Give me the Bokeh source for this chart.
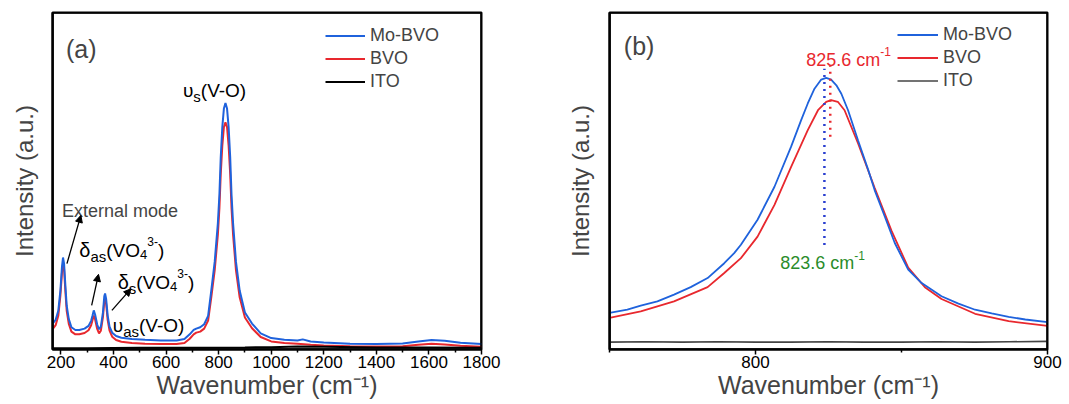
from bokeh.plotting import figure
from bokeh.layouts import row
from bokeh.models import (Range1d, FixedTicker, Legend, LegendItem, Label, Arrow,
                          NormalHead, ColumnDataSource, BoxAnnotation)
from bokeh.embed import file_html
from bokeh.resources import INLINE

FONT = "Liberation Sans"
BLUE = "#1f62dc"
RED = "#e8282e"
GREEN = "#2a8c2a"

# ---------------- Panel (a) data ----------------
a_x_mobvo = [170, 180, 190, 198, 204, 208, 212, 217, 222, 230, 240, 255, 270, 290, 305, 315, 320, 325,
             330, 338, 345, 352, 360, 365, 368, 372, 378, 385, 395, 410, 430, 470, 520, 580, 640, 670,
             690, 705, 715, 730, 745, 760, 772, 785, 797, 803, 808, 814, 820, 826, 832, 838, 844, 849,
             855, 866, 880, 900, 927, 960, 1000, 1050, 1100, 1120, 1150, 1200, 1300, 1400, 1500, 1560,
             1610, 1660, 1720, 1800]
a_y_mobvo = [0.078, 0.088, 0.115, 0.175, 0.245, 0.273, 0.255, 0.19, 0.13, 0.09, 0.066, 0.058, 0.058,
             0.062, 0.07, 0.085, 0.1, 0.116, 0.104, 0.074, 0.06, 0.068, 0.11, 0.158, 0.166, 0.15, 0.1,
             0.068, 0.05, 0.04, 0.035, 0.031, 0.029, 0.027, 0.027, 0.031, 0.045, 0.058, 0.062, 0.066,
             0.075, 0.1, 0.175, 0.26, 0.374, 0.46, 0.57, 0.66, 0.715, 0.731, 0.715, 0.66, 0.57, 0.46,
             0.374, 0.26, 0.175, 0.11, 0.077, 0.048, 0.034, 0.029, 0.027, 0.03, 0.024, 0.021, 0.017,
             0.016, 0.018, 0.024, 0.028, 0.026, 0.02, 0.016]
a_x_bvo = [170, 180, 190, 198, 204, 208, 212, 217, 222, 230, 240, 255, 270, 290, 305, 315, 320, 325,
           330, 338, 345, 352, 360, 365, 368, 372, 378, 385, 395, 410, 430, 470, 520, 580, 640, 670,
           690, 705, 715, 730, 745, 760, 772, 785, 797, 803, 808, 814, 820, 826, 832, 838, 844, 849,
           855, 866, 880, 900, 927, 960, 1000, 1050, 1100, 1150, 1200, 1300, 1400, 1500, 1560, 1610,
           1660, 1720, 1800]
a_y_bvo = [0.062, 0.072, 0.1, 0.16, 0.228, 0.255, 0.238, 0.172, 0.115, 0.076, 0.053, 0.045, 0.045,
           0.049, 0.057, 0.072, 0.087, 0.101, 0.09, 0.061, 0.048, 0.056, 0.097, 0.143, 0.151, 0.136,
           0.087, 0.056, 0.038, 0.028, 0.023, 0.019, 0.017, 0.016, 0.016, 0.019, 0.032, 0.045, 0.05,
           0.053, 0.062, 0.086, 0.155, 0.235, 0.34, 0.42, 0.52, 0.605, 0.66, 0.674, 0.66, 0.605, 0.52,
           0.42, 0.34, 0.235, 0.155, 0.095, 0.063, 0.037, 0.024, 0.019, 0.017, 0.014, 0.012, 0.01,
           0.009, 0.01, 0.014, 0.017, 0.015, 0.011, 0.008]
a_x_ito = [170, 300, 500, 700, 900, 1000, 1100, 1200, 1400, 1600, 1800]
a_y_ito = [0.004, 0.004, 0.005, 0.005, 0.006, 0.007, 0.009, 0.008, 0.006, 0.006, 0.005]

# ---------------- Panel (b) data ----------------
b_x_mobvo = [750.0, 756.1, 760.7, 766.4, 772.1, 777.8, 783.6, 789.3, 792.7, 795.0, 800.7, 806.5, 812.2,
             815.6, 817.9, 820.2, 822.5, 824.2, 825.9, 827.7, 829.4, 831.7, 835.1, 838.6, 840.8, 844.3,
             847.7, 852.3, 856.9, 863.7, 869.5, 875.2, 880.9, 886.7, 892.4, 900.0]
b_y_mobvo = [0.1085, 0.118, 0.130, 0.143, 0.163, 0.185, 0.212, 0.256, 0.286, 0.311, 0.385, 0.483, 0.602,
             0.680, 0.730, 0.774, 0.801, 0.806, 0.801, 0.784, 0.759, 0.710, 0.621, 0.533, 0.473, 0.394,
             0.316, 0.237, 0.197, 0.158, 0.136, 0.118, 0.107, 0.097, 0.089, 0.081]
b_x_bvo = [750.0, 760.7, 772.1, 783.6, 789.3, 795.0, 800.7, 806.5, 812.2, 817.9, 821.4, 824.2, 825.9,
           828.2, 830.5, 835.1, 840.8, 846.6, 852.3, 858.0, 863.7, 875.2, 886.7, 900.0]
b_y_bvo = [0.0937, 0.113, 0.143, 0.185, 0.227, 0.271, 0.335, 0.429, 0.542, 0.651, 0.710, 0.735, 0.740,
           0.735, 0.710, 0.612, 0.480, 0.352, 0.243, 0.185, 0.150, 0.106, 0.084, 0.070]
b_x_ito = [750, 762, 775, 787, 800, 812, 825, 837, 850, 862, 875, 887, 900]
b_y_ito = [0.022, 0.023, 0.022, 0.023, 0.022, 0.022, 0.023, 0.022, 0.022, 0.023, 0.022, 0.023, 0.024]

# peak markers (b)
peak_x = [823.6, 825.6]
peak_y0 = [0.31, 0.631]
peak_y1 = [0.833, 0.843]
peak_colors = ["#2a3fd0", RED]

a_range = (168, 1800)
b_range = (750, 900)
a_major = [200, 400, 600, 800, 1000, 1200, 1400, 1600, 1800]
a_minor = [300, 500, 700, 900, 1100, 1300, 1500, 1700]
b_major = [800, 900]
b_minor = [750, 850]

W = {'0': 556, '1': 556, '2': 556, '3': 556, '4': 556, '5': 556, '6': 556, '7': 556, '8': 556,
     '9': 556, '.': 278, ' ': 278, 'c': 500, 'm': 833, '-': 333, '(': 333, ')': 333, 'V': 667,
     'O': 778, 'a': 556, 's': 500, 'δ': 556, 'υ': 549}


def tw(s, size):
    return sum(W.get(ch, 556) for ch in s) * size / 1000.0


def rich(p, x, y, pieces, color="black"):
    off = 0.0
    for txt, size, dy in pieces:
        p.add_layout(Label(x=x, y=y, x_offset=off, y_offset=dy, text=txt,
                           text_font_size=f"{size}px", text_font=FONT, text_color=color,
                           text_baseline="alphabetic", text_align="left"))
        off += tw(txt, size)


def style(p, major, minor, ylabel_standoff, xr):
    p.xaxis.ticker = FixedTicker(ticks=major, minor_ticks=minor)
    p.xaxis.major_tick_in = 0
    p.xaxis.major_tick_out = 5
    p.xaxis.minor_tick_in = 0
    p.xaxis.minor_tick_out = 3
    p.xaxis.major_tick_line_width = 1.5
    p.xaxis.minor_tick_line_width = 1.5
    p.xaxis.major_label_text_font = FONT
    p.xaxis.major_label_text_font_size = "17px"
    p.xaxis.major_label_text_color = "black"
    p.xaxis.major_label_standoff = 1
    p.xaxis.axis_label = "Wavenumber (cm⁻¹)"
    p.xaxis.axis_label_text_font = FONT
    p.xaxis.axis_label_text_font_size = "25px"
    p.xaxis.axis_label_text_font_style = "normal"
    p.xaxis.axis_label_standoff = 0
    p.xaxis.axis_line_width = 2
    p.yaxis.ticker = FixedTicker(ticks=[])
    p.yaxis.axis_label = "Intensity (a.u.)"
    p.yaxis.axis_label_text_font = FONT
    p.yaxis.axis_label_text_font_size = "24px"
    p.yaxis.axis_label_text_font_style = "normal"
    p.yaxis.axis_label_standoff = ylabel_standoff
    p.yaxis.major_tick_line_color = None
    p.yaxis.minor_tick_line_color = None
    p.yaxis.axis_line_width = 2
    p.xgrid.visible = False
    p.ygrid.visible = False
    p.outline_line_color = "black"
    p.outline_line_width = 2
    p.outline_line_alpha = 1
    # frame border drawn along the edges of the plotting area
    p.add_layout(BoxAnnotation(left=xr[0], right=xr[1], bottom=0, top=1, fill_alpha=0,
                               line_color="black", line_width=2.5, line_alpha=1, level="overlay"))


# ---------------- Figure (a) ----------------
pa = figure(frame_width=429, frame_height=337, x_range=Range1d(*a_range), y_range=Range1d(0, 1),
            output_backend="svg", toolbar_location=None,
            min_border_left=52, min_border_right=59, min_border_top=12, min_border_bottom=53)
style(pa, a_major, a_minor, 15, a_range)
ra_b = pa.line(a_x_bvo, a_y_bvo, line_color=RED, line_width=2)
ra_m = pa.line(a_x_mobvo, a_y_mobvo, line_color=BLUE, line_width=2)
ra_i = pa.line(a_x_ito, a_y_ito, line_color="black", line_width=2)

leg_a = Legend(items=[LegendItem(label="Mo-BVO", renderers=[ra_m]),
                      LegendItem(label="BVO", renderers=[ra_b]),
                      LegendItem(label="ITO", renderers=[ra_i])],
               location=(273, 256), padding=0, spacing=0, margin=0, glyph_width=40,
               glyph_height=23, label_height=23, label_standoff=5,
               label_text_font=FONT, label_text_font_size="18px",
               border_line_color=None, background_fill_alpha=0)
pa.add_layout(leg_a)

pa.add_layout(Label(x=219, y=0.893, text="(a)", text_font=FONT, text_font_size="25px",
                    text_baseline="alphabetic"))
pa.add_layout(Label(x=204, y=0.412, text="External mode", text_font=FONT, text_font_size="18px",
                    text_baseline="alphabetic"))
rich(pa, 664, 0.769, [("υ", 19, 0), ("s", 15, -6), ("(V-O)", 19, 0)])
rich(pa, 270, 0.294, [("δ", 20, 0), ("as", 15, -6), ("(VO", 19, 0), ("4", 13, -4), ("3-", 12, 9),
                      (")", 19, 0)])
rich(pa, 416, 0.200, [("δ", 20, 0), ("s", 15, -6), ("(VO", 19, 0), ("4", 13, -4), ("3-", 12, 9),
                      (")", 19, 0)])
rich(pa, 397, 0.071, [("υ", 19, 0), ("as", 15, -6), ("(V-O)", 19, 0)])

for (x0, y0, x1, y1) in [(223, 0.255, 276, 0.398), (317, 0.131, 343, 0.223), (394, 0.116, 466, 0.18)]:
    pa.add_layout(Arrow(end=NormalHead(size=7, fill_color="black", line_color="black"),
                        x_start=x0, y_start=y0, x_end=x1, y_end=y1, line_width=1.3,
                        line_color="black"))

# ---------------- Figure (b) ----------------
pb = figure(frame_width=438, frame_height=337, x_range=Range1d(*b_range), y_range=Range1d(0, 1),
            output_backend="svg", toolbar_location=None,
            min_border_left=69, min_border_right=20, min_border_top=12, min_border_bottom=53)
style(pb, b_major, b_minor, 16, b_range)
rb_i = pb.line(b_x_ito, b_y_ito, line_color="#444444", line_width=1.6)
rb_b = pb.line(b_x_bvo, b_y_bvo, line_color=RED, line_width=1.8)
rb_m = pb.line(b_x_mobvo, b_y_mobvo, line_color=BLUE, line_width=1.8)
src = ColumnDataSource(dict(x=peak_x, y0=peak_y0, y1=peak_y1, c=peak_colors))
pb.segment(x0="x", y0="y0", x1="x", y1="y1", color="c", source=src, line_width=2.5,
           line_dash="2 5")

leg_b = Legend(items=[LegendItem(label="Mo-BVO", renderers=[rb_m]),
                      LegendItem(label="BVO", renderers=[rb_b]),
                      LegendItem(label="ITO", renderers=[rb_i])],
               location=(288, 257), padding=0, spacing=0, margin=0, glyph_width=41,
               glyph_height=23, label_height=23, label_standoff=5,
               label_text_font=FONT, label_text_font_size="18px",
               border_line_color=None, background_fill_alpha=0)
pb.add_layout(leg_b)

pb.add_layout(Label(x=754.9, y=0.902, text="(b)", text_font=FONT, text_font_size="25px",
                    text_baseline="alphabetic"))
rich(pb, 817.4, 0.86, [("825.6 cm", 18, 0), ("-1", 12, 8)], color=RED)
rich(pb, 808.5, 0.2565, [("823.6 cm", 18, 0), ("-1", 12, 8)], color=GREEN)

layout = row(pa, pb)
open("out.html", "w").write(file_html(layout, INLINE))
